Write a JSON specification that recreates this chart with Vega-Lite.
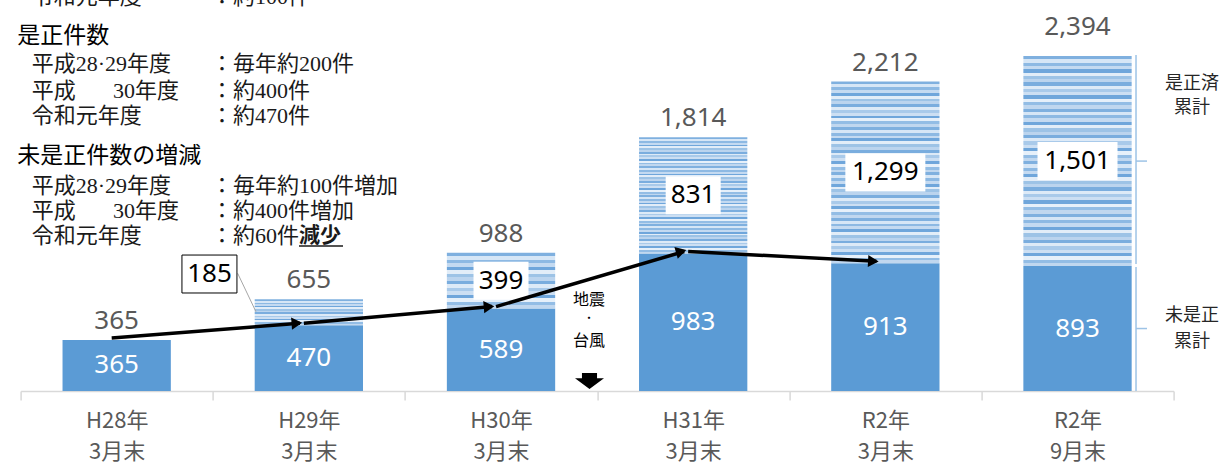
{
  "$schema": "https://vega.github.io/schema/vega-lite/v6.json",
  "width": 1153,
  "height": 391,
  "autosize": "none",
  "padding": {"left": 20.6, "top": 0, "right": 53.4, "bottom": 73},
  "background": "white",
  "config": {"view": {"stroke": null}},
  "datasets": {
    "bars": [
      {"cat": "H28年|3月末", "unfixed": 365, "fixed": 0, "total": 365},
      {"cat": "H29年|3月末", "unfixed": 470, "fixed": 185, "total": 655},
      {"cat": "H30年|3月末", "unfixed": 589, "fixed": 399, "total": 988},
      {"cat": "H31年|3月末", "unfixed": 983, "fixed": 831, "total": 1814},
      {"cat": "R2年|3月末", "unfixed": 913, "fixed": 1299, "total": 2212},
      {"cat": "R2年|9月末", "unfixed": 893, "fixed": 1501, "total": 2394}
    ],
    "notes": [
      {"kind": "subL", "anchor": "H28年|3月末", "y": 2813, "text": "令和元年度"},
      {"kind": "subR", "anchor": "H28年|3月末", "y": 2813, "text": "：約100件"},
      {"kind": "head", "anchor": "H28年|3月末", "y": 2537, "text": "是正件数"},
      {"kind": "subL", "anchor": "H28年|3月末", "y": 2337, "text": "平成28·29年度"},
      {"kind": "subR", "anchor": "H28年|3月末", "y": 2337, "text": "：毎年約200件"},
      {"kind": "subL", "anchor": "H28年|3月末", "y": 2148, "text": "平成\u3000\u2002\u200930年度"},
      {"kind": "subR", "anchor": "H28年|3月末", "y": 2148, "text": "：約400件"},
      {"kind": "subL", "anchor": "H28年|3月末", "y": 1967, "text": "令和元年度"},
      {"kind": "subR", "anchor": "H28年|3月末", "y": 1967, "text": "：約470件"},
      {"kind": "head", "anchor": "H28年|3月末", "y": 1681, "text": "未是正件数の増減"},
      {"kind": "subL", "anchor": "H28年|3月末", "y": 1467, "text": "平成28·29年度"},
      {"kind": "subR", "anchor": "H28年|3月末", "y": 1467, "text": "：毎年約100件増加"},
      {"kind": "subL", "anchor": "H28年|3月末", "y": 1287, "text": "平成\u3000\u2002\u200930年度"},
      {"kind": "subR", "anchor": "H28年|3月末", "y": 1287, "text": "：約400件増加"},
      {"kind": "subL", "anchor": "H28年|3月末", "y": 1109, "text": "令和元年度"},
      {"kind": "subR", "anchor": "H28年|3月末", "y": 1109, "text": "：約60件"},
      {"kind": "bold", "anchor": "H28年|3月末", "y": 1109, "text": "減少"},
      {"kind": "uline", "anchor": "H28年|3月末", "y": 1036},
      {"kind": "quake", "anchor": "H28年|3月末", "y": 650, "text": "地震"},
      {"kind": "dot", "anchor": "H28年|3月末", "y": 515, "text": "・"},
      {"kind": "quake", "anchor": "H28年|3月末", "y": 358, "text": "台風"},
      {"kind": "arrow", "anchor": "H28年|3月末", "y": 71}
    ]
  },
  "layer": [
    {
      "data": {"name": "bars"},
      "transform": [
        {"calculate": "datum.unfixed / 2", "as": "midLow"},
        {"calculate": "(datum.unfixed + datum.total) / 2", "as": "midHigh"}
      ],
      "encoding": {
        "x": {
          "field": "cat", "type": "nominal", "sort": null,
          "scale": {"domain": ["H28年|3月末", "H29年|3月末", "H30年|3月末", "H31年|3月末", "R2年|3月末", "R2年|9月末"], "paddingInner": 0, "paddingOuter": 0},
          "axis": {
            "title": null, "labelExpr": "split(datum.label, '|')", "labelAngle": 0,
            "labelFont": "Noto Sans CJK JP", "labelFontSize": 22, "labelColor": "#595959",
            "labelLineHeight": 31, "labelPadding": 10, "labelBaseline": "top", "labelLimit": 300, "labelOverlap": false,
            "tickBand": "extent", "tickSize": 9, "tickColor": "#D9D9D9", "tickWidth": 1.5,
            "domainColor": "#D9D9D9", "domainWidth": 1.5, "grid": false
          }
        }
      },
      "layer": [
        {
          "mark": {"type": "bar", "color": "#5B9BD5", "width": {"band": 0.5636}},
          "encoding": {"y": {"field": "unfixed", "type": "quantitative", "scale": {"domain": [0, 2795], "nice": false, "zero": true}, "axis": null}}
        },
        {
          "transform": [{"filter": "datum.fixed > 0 && datum.fixed < 500"}],
          "mark": {"type": "bar", "width": {"band": 0.5636}, "color": {"gradient": "linear", "x1": 0, "y1": 0, "x2": 0, "y2": 1, "stops": [
            {"offset":0,"color":"#7FB0DF"},{"offset":0.0625,"color":"#7FB0DF"},
            {"offset":0.0625,"color":"#D6E6F6"},{"offset":0.125,"color":"#D6E6F6"},
            {"offset":0.125,"color":"#8DB9E3"},{"offset":0.1875,"color":"#8DB9E3"},
            {"offset":0.1875,"color":"#C4DAF1"},{"offset":0.25,"color":"#C4DAF1"},
            {"offset":0.25,"color":"#6FA6DB"},{"offset":0.3125,"color":"#6FA6DB"},
            {"offset":0.3125,"color":"#E2EDF8"},{"offset":0.375,"color":"#E2EDF8"},
            {"offset":0.375,"color":"#9DC3E6"},{"offset":0.4375,"color":"#9DC3E6"},
            {"offset":0.4375,"color":"#BBD4EE"},{"offset":0.5,"color":"#BBD4EE"},
            {"offset":0.5,"color":"#7AADDE"},{"offset":0.5625,"color":"#7AADDE"},
            {"offset":0.5625,"color":"#DDEAF7"},{"offset":0.625,"color":"#DDEAF7"},
            {"offset":0.625,"color":"#A9CAEA"},{"offset":0.6875,"color":"#A9CAEA"},
            {"offset":0.6875,"color":"#CCDFF3"},{"offset":0.75,"color":"#CCDFF3"},
            {"offset":0.75,"color":"#6FA6DB"},{"offset":0.8125,"color":"#6FA6DB"},
            {"offset":0.8125,"color":"#E6F0FA"},{"offset":0.875,"color":"#E6F0FA"},
            {"offset":0.875,"color":"#93BDE5"},{"offset":0.9375,"color":"#93BDE5"},
            {"offset":0.9375,"color":"#C0D7EF"},{"offset":1,"color":"#C0D7EF"}
          ]}},
          "encoding": {
            "y": {"field": "unfixed", "type": "quantitative"},
            "y2": {"field": "total"}
          }
        },
        {
          "transform": [{"filter": "datum.fixed >= 500"}],
          "mark": {"type": "bar", "width": {"band": 0.5636}, "color": {"gradient": "linear", "x1": 0, "y1": 0, "x2": 0, "y2": 1, "stops": [
            {"offset":0,"color":"#7FB0DF"},{"offset":0.015625,"color":"#7FB0DF"},
            {"offset":0.015625,"color":"#D6E6F6"},{"offset":0.03125,"color":"#D6E6F6"},
            {"offset":0.03125,"color":"#8DB9E3"},{"offset":0.046875,"color":"#8DB9E3"},
            {"offset":0.046875,"color":"#C4DAF1"},{"offset":0.0625,"color":"#C4DAF1"},
            {"offset":0.0625,"color":"#6FA6DB"},{"offset":0.078125,"color":"#6FA6DB"},
            {"offset":0.078125,"color":"#E2EDF8"},{"offset":0.09375,"color":"#E2EDF8"},
            {"offset":0.09375,"color":"#9DC3E6"},{"offset":0.109375,"color":"#9DC3E6"},
            {"offset":0.109375,"color":"#BBD4EE"},{"offset":0.125,"color":"#BBD4EE"},
            {"offset":0.125,"color":"#7AADDE"},{"offset":0.140625,"color":"#7AADDE"},
            {"offset":0.140625,"color":"#DDEAF7"},{"offset":0.15625,"color":"#DDEAF7"},
            {"offset":0.15625,"color":"#A9CAEA"},{"offset":0.171875,"color":"#A9CAEA"},
            {"offset":0.171875,"color":"#CCDFF3"},{"offset":0.1875,"color":"#CCDFF3"},
            {"offset":0.1875,"color":"#6FA6DB"},{"offset":0.203125,"color":"#6FA6DB"},
            {"offset":0.203125,"color":"#E6F0FA"},{"offset":0.21875,"color":"#E6F0FA"},
            {"offset":0.21875,"color":"#93BDE5"},{"offset":0.234375,"color":"#93BDE5"},
            {"offset":0.234375,"color":"#C0D7EF"},{"offset":0.25,"color":"#C0D7EF"},
            {"offset":0.25,"color":"#7FB0DF"},{"offset":0.265625,"color":"#7FB0DF"},
            {"offset":0.265625,"color":"#D6E6F6"},{"offset":0.28125,"color":"#D6E6F6"},
            {"offset":0.28125,"color":"#8DB9E3"},{"offset":0.296875,"color":"#8DB9E3"},
            {"offset":0.296875,"color":"#C4DAF1"},{"offset":0.3125,"color":"#C4DAF1"},
            {"offset":0.3125,"color":"#6FA6DB"},{"offset":0.328125,"color":"#6FA6DB"},
            {"offset":0.328125,"color":"#E2EDF8"},{"offset":0.34375,"color":"#E2EDF8"},
            {"offset":0.34375,"color":"#9DC3E6"},{"offset":0.359375,"color":"#9DC3E6"},
            {"offset":0.359375,"color":"#BBD4EE"},{"offset":0.375,"color":"#BBD4EE"},
            {"offset":0.375,"color":"#7AADDE"},{"offset":0.390625,"color":"#7AADDE"},
            {"offset":0.390625,"color":"#DDEAF7"},{"offset":0.40625,"color":"#DDEAF7"},
            {"offset":0.40625,"color":"#A9CAEA"},{"offset":0.421875,"color":"#A9CAEA"},
            {"offset":0.421875,"color":"#CCDFF3"},{"offset":0.4375,"color":"#CCDFF3"},
            {"offset":0.4375,"color":"#6FA6DB"},{"offset":0.453125,"color":"#6FA6DB"},
            {"offset":0.453125,"color":"#E6F0FA"},{"offset":0.46875,"color":"#E6F0FA"},
            {"offset":0.46875,"color":"#93BDE5"},{"offset":0.484375,"color":"#93BDE5"},
            {"offset":0.484375,"color":"#C0D7EF"},{"offset":0.5,"color":"#C0D7EF"},
            {"offset":0.5,"color":"#7FB0DF"},{"offset":0.515625,"color":"#7FB0DF"},
            {"offset":0.515625,"color":"#D6E6F6"},{"offset":0.53125,"color":"#D6E6F6"},
            {"offset":0.53125,"color":"#8DB9E3"},{"offset":0.546875,"color":"#8DB9E3"},
            {"offset":0.546875,"color":"#C4DAF1"},{"offset":0.5625,"color":"#C4DAF1"},
            {"offset":0.5625,"color":"#6FA6DB"},{"offset":0.578125,"color":"#6FA6DB"},
            {"offset":0.578125,"color":"#E2EDF8"},{"offset":0.59375,"color":"#E2EDF8"},
            {"offset":0.59375,"color":"#9DC3E6"},{"offset":0.609375,"color":"#9DC3E6"},
            {"offset":0.609375,"color":"#BBD4EE"},{"offset":0.625,"color":"#BBD4EE"},
            {"offset":0.625,"color":"#7AADDE"},{"offset":0.640625,"color":"#7AADDE"},
            {"offset":0.640625,"color":"#DDEAF7"},{"offset":0.65625,"color":"#DDEAF7"},
            {"offset":0.65625,"color":"#A9CAEA"},{"offset":0.671875,"color":"#A9CAEA"},
            {"offset":0.671875,"color":"#CCDFF3"},{"offset":0.6875,"color":"#CCDFF3"},
            {"offset":0.6875,"color":"#6FA6DB"},{"offset":0.703125,"color":"#6FA6DB"},
            {"offset":0.703125,"color":"#E6F0FA"},{"offset":0.71875,"color":"#E6F0FA"},
            {"offset":0.71875,"color":"#93BDE5"},{"offset":0.734375,"color":"#93BDE5"},
            {"offset":0.734375,"color":"#C0D7EF"},{"offset":0.75,"color":"#C0D7EF"},
            {"offset":0.75,"color":"#7FB0DF"},{"offset":0.765625,"color":"#7FB0DF"},
            {"offset":0.765625,"color":"#D6E6F6"},{"offset":0.78125,"color":"#D6E6F6"},
            {"offset":0.78125,"color":"#8DB9E3"},{"offset":0.796875,"color":"#8DB9E3"},
            {"offset":0.796875,"color":"#C4DAF1"},{"offset":0.8125,"color":"#C4DAF1"},
            {"offset":0.8125,"color":"#6FA6DB"},{"offset":0.828125,"color":"#6FA6DB"},
            {"offset":0.828125,"color":"#E2EDF8"},{"offset":0.84375,"color":"#E2EDF8"},
            {"offset":0.84375,"color":"#9DC3E6"},{"offset":0.859375,"color":"#9DC3E6"},
            {"offset":0.859375,"color":"#BBD4EE"},{"offset":0.875,"color":"#BBD4EE"},
            {"offset":0.875,"color":"#7AADDE"},{"offset":0.890625,"color":"#7AADDE"},
            {"offset":0.890625,"color":"#DDEAF7"},{"offset":0.90625,"color":"#DDEAF7"},
            {"offset":0.90625,"color":"#A9CAEA"},{"offset":0.921875,"color":"#A9CAEA"},
            {"offset":0.921875,"color":"#CCDFF3"},{"offset":0.9375,"color":"#CCDFF3"},
            {"offset":0.9375,"color":"#6FA6DB"},{"offset":0.953125,"color":"#6FA6DB"},
            {"offset":0.953125,"color":"#E6F0FA"},{"offset":0.96875,"color":"#E6F0FA"},
            {"offset":0.96875,"color":"#93BDE5"},{"offset":0.984375,"color":"#93BDE5"},
            {"offset":0.984375,"color":"#C0D7EF"},{"offset":1,"color":"#C0D7EF"}
          ]}},
          "encoding": {
            "y": {"field": "unfixed", "type": "quantitative"},
            "y2": {"field": "total"}
          }
        },
        {
          "transform": [{"filter": "datum.cat != 'R2年|9月末'"}],
          "mark": {"type": "text", "font": "Noto Sans", "fontSize": 26, "color": "#595959", "baseline": "alphabetic", "dy": -11},
          "encoding": {
            "y": {"field": "total", "type": "quantitative"},
            "text": {"field": "total", "type": "quantitative", "format": ","}
          }
        },
        {
          "transform": [{"filter": "datum.cat == 'R2年|9月末'"}],
          "mark": {"type": "text", "font": "Noto Sans", "fontSize": 26, "color": "#595959", "baseline": "alphabetic", "dy": -21},
          "encoding": {
            "y": {"field": "total", "type": "quantitative"},
            "text": {"field": "total", "type": "quantitative", "format": ","}
          }
        },
        {
          "mark": {"type": "text", "font": "Noto Sans", "fontSize": 26, "color": "white", "baseline": "middle"},
          "encoding": {
            "y": {"field": "midLow", "type": "quantitative"},
            "text": {"field": "unfixed", "type": "quantitative", "format": ","}
          }
        },
        {
          "transform": [{"filter": "datum.fixed >= 300 && datum.fixed < 1000"}],
          "mark": {"type": "point", "filled": true, "fill": "white", "opacity": 1, "strokeWidth": 0, "shape": "M-1,-0.69H1V0.69H-1Z", "size": 3025},
          "encoding": {"y": {"field": "midHigh", "type": "quantitative"}}
        },
        {
          "transform": [{"filter": "datum.fixed >= 1000"}],
          "mark": {"type": "point", "filled": true, "fill": "white", "opacity": 1, "strokeWidth": 0, "shape": "M-1,-0.475H1V0.475H-1Z", "size": 6400},
          "encoding": {"y": {"field": "midHigh", "type": "quantitative"}}
        },
        {
          "transform": [{"filter": "datum.fixed >= 300"}],
          "mark": {"type": "text", "font": "Noto Sans", "fontSize": 26, "color": "black", "baseline": "middle"},
          "encoding": {
            "y": {"field": "midHigh", "type": "quantitative"},
            "text": {"field": "fixed", "type": "quantitative", "format": ","}
          }
        },
        {
          "transform": [{"filter": "datum.cat == 'H29年|3月末'"}],
          "mark": {"type": "rule", "color": "#A6A6A6", "strokeWidth": 1, "xOffset": -71.2, "x2Offset": -52.9, "yOffset": -39, "y2Offset": -0.6},
          "encoding": {
            "y": {"field": "midHigh", "type": "quantitative"},
            "x2": {"field": "cat"},
            "y2": {"field": "midHigh"}
          }
        },
        {
          "transform": [{"filter": "datum.cat == 'H29年|3月末'"}],
          "mark": {"type": "point", "filled": true, "fill": "white", "stroke": "black", "strokeWidth": 1, "opacity": 1, "shape": "M-1,-0.69H1V0.69H-1Z", "size": 3025, "xOffset": -99.4, "yOffset": -38.3},
          "encoding": {"y": {"field": "midHigh", "type": "quantitative"}}
        },
        {
          "transform": [{"filter": "datum.cat == 'H29年|3月末'"}],
          "mark": {"type": "text", "font": "Noto Sans", "fontSize": 26, "color": "black", "baseline": "middle", "dx": -99.4, "dy": -38.3},
          "encoding": {
            "y": {"field": "midHigh", "type": "quantitative"},
            "text": {"field": "fixed", "type": "quantitative", "format": ","}
          }
        },
        {
          "transform": [
            {"window": [{"op": "lead", "field": "unfixed", "as": "nu"}, {"op": "lead", "field": "cat", "as": "nc"}]},
            {"filter": "datum.fixed < 1000"}
          ],
          "mark": {"type": "rule", "color": "black", "strokeWidth": 3.5, "xOffset": -5, "yOffset": -2, "x2Offset": -9, "y2Offset": -2},
          "encoding": {
            "y": {"field": "unfixed", "type": "quantitative"},
            "x2": {"field": "nc"},
            "y2": {"field": "nu"}
          }
        },
        {
          "transform": [
            {"window": [{"op": "lead", "field": "unfixed", "as": "nu"}, {"op": "lead", "field": "cat", "as": "nc"}]},
            {"filter": "datum.fixed < 1000"},
            {"calculate": "-atan((datum.nu - datum.unfixed) * 0.1399 / 192.17) * 180 / PI", "as": "ang"}
          ],
          "mark": {"type": "point", "shape": "triangle-right", "filled": true, "color": "black", "opacity": 1, "size": 150, "xOffset": -12, "yOffset": -2},
          "encoding": {
            "x": {"field": "nc", "type": "nominal"},
            "y": {"field": "nu", "type": "quantitative"},
            "angle": {"field": "ang", "type": "quantitative", "scale": null}
          }
        },
        {
          "transform": [{"filter": "datum.cat == 'R2年|9月末'"}],
          "mark": {"type": "rule", "color": "#9DC3E6", "strokeWidth": 1.5, "xOffset": 58.5, "yOffset": -1, "y2Offset": -2},
          "encoding": {
            "y": {"field": "total", "type": "quantitative"},
            "y2": {"field": "unfixed"}
          }
        },
        {
          "transform": [{"filter": "datum.cat == 'R2年|9月末'"}],
          "mark": {"type": "rule", "color": "#9DC3E6", "strokeWidth": 1.5, "xOffset": 58.5, "x2Offset": 69.5},
          "encoding": {
            "y": {"field": "midHigh", "type": "quantitative"},
            "x2": {"field": "cat"}
          }
        },
        {
          "transform": [{"filter": "datum.cat == 'R2年|9月末'"}],
          "mark": {"type": "rule", "color": "#9DC3E6", "strokeWidth": 1.5, "xOffset": 58.5, "yOffset": 1},
          "encoding": {
            "y": {"field": "unfixed", "type": "quantitative"},
            "y2": {"datum": 0}
          }
        },
        {
          "transform": [{"filter": "datum.cat == 'R2年|9月末'"}],
          "mark": {"type": "rule", "color": "#9DC3E6", "strokeWidth": 1.5, "xOffset": 58.5, "x2Offset": 69.5},
          "encoding": {
            "y": {"field": "midLow", "type": "quantitative"},
            "x2": {"field": "cat"}
          }
        },
        {
          "transform": [{"filter": "datum.cat == 'R2年|9月末'"}],
          "mark": {"type": "text", "text": "是正済", "font": "Noto Sans CJK JP", "fontSize": 18, "color": "#262626", "baseline": "middle", "dx": 114.5, "dy": 28},
          "encoding": {"y": {"field": "total", "type": "quantitative"}}
        },
        {
          "transform": [{"filter": "datum.cat == 'R2年|9月末'"}],
          "mark": {"type": "text", "text": "累計", "font": "Noto Sans CJK JP", "fontSize": 18, "color": "#262626", "baseline": "middle", "dx": 114.5, "dy": 52},
          "encoding": {"y": {"field": "total", "type": "quantitative"}}
        },
        {
          "transform": [{"filter": "datum.cat == 'R2年|9月末'"}],
          "mark": {"type": "text", "text": "未是正", "font": "Noto Sans CJK JP", "fontSize": 18, "color": "#262626", "baseline": "middle", "dx": 114.5, "dy": 50},
          "encoding": {"y": {"field": "unfixed", "type": "quantitative"}}
        },
        {
          "transform": [{"filter": "datum.cat == 'R2年|9月末'"}],
          "mark": {"type": "text", "text": "累計", "font": "Noto Sans CJK JP", "fontSize": 18, "color": "#262626", "baseline": "middle", "dx": 114.5, "dy": 76},
          "encoding": {"y": {"field": "unfixed", "type": "quantitative"}}
        }
      ]
    },
    {
      "data": {"name": "notes"},
      "encoding": {
        "x": {"field": "anchor", "type": "nominal", "sort": null, "bandPosition": 0,
              "scale": {"domain": ["H28年|3月末", "H29年|3月末", "H30年|3月末", "H31年|3月末", "R2年|3月末", "R2年|9月末"], "paddingInner": 0, "paddingOuter": 0},
              "axis": {
                "title": null, "labelExpr": "split(datum.label, '|')", "labelAngle": 0,
                "labelFont": "Noto Sans CJK JP", "labelFontSize": 22, "labelColor": "#595959",
                "labelLineHeight": 31, "labelPadding": 10, "labelBaseline": "top", "labelLimit": 300, "labelOverlap": false,
                "tickBand": "extent", "tickSize": 9, "tickColor": "#D9D9D9", "tickWidth": 1.5,
                "domainColor": "#D9D9D9", "domainWidth": 1.5, "grid": false
              }},
        "y": {"field": "y", "type": "quantitative"}
      },
      "layer": [
        {
          "transform": [{"filter": "datum.kind == 'head'"}],
          "mark": {"type": "text", "align": "left", "baseline": "middle", "font": "Noto Sans CJK JP", "fontSize": 23, "color": "black", "dx": -3.3},
          "encoding": {"text": {"field": "text"}}
        },
        {
          "transform": [{"filter": "datum.kind == 'subL'"}],
          "mark": {"type": "text", "align": "left", "baseline": "middle", "font": "Liberation Serif, Noto Sans CJK JP", "fontSize": 22, "color": "#1a1a1a", "dx": 11.1},
          "encoding": {"text": {"field": "text"}}
        },
        {
          "transform": [{"filter": "datum.kind == 'subR'"}],
          "mark": {"type": "text", "align": "left", "baseline": "middle", "font": "Liberation Serif, Noto Sans CJK JP", "fontSize": 22, "color": "#1a1a1a", "dx": 190.4},
          "encoding": {"text": {"field": "text"}}
        },
        {
          "transform": [{"filter": "datum.kind == 'bold'"}],
          "mark": {"type": "text", "align": "left", "baseline": "middle", "font": "Liberation Serif, Noto Sans CJK JP", "fontWeight": "bold", "fontSize": 21, "color": "#1a1a1a", "dx": 278.4},
          "encoding": {"text": {"field": "text"}}
        },
        {
          "transform": [{"filter": "datum.kind == 'uline'"}],
          "mark": {"type": "point", "filled": false, "stroke": "#1a1a1a", "strokeWidth": 1.6, "opacity": 1, "shape": "M-1,0H1", "size": 1936, "xOffset": 300.4},
          "encoding": {}
        },
        {
          "transform": [{"filter": "datum.kind == 'quake'"}],
          "mark": {"type": "text", "align": "center", "baseline": "middle", "font": "Noto Sans CJK JP", "fontSize": 16, "color": "black", "dx": 568.4},
          "encoding": {"text": {"field": "text"}}
        },
        {
          "transform": [{"filter": "datum.kind == 'dot'"}],
          "mark": {"type": "text", "align": "center", "baseline": "middle", "font": "Noto Sans CJK JP", "fontSize": 11, "color": "black", "dx": 568.4},
          "encoding": {"text": {"field": "text"}}
        },
        {
          "transform": [{"filter": "datum.kind == 'arrow'"}],
          "mark": {"type": "point", "filled": true, "color": "black", "opacity": 1, "shape": "M-0.52,-0.55H0.52V-0.2H1L0,0.55L-1,-0.2H-0.52Z", "size": 841, "xOffset": 568.9},
          "encoding": {}
        }
      ]
    }
  ]
}
